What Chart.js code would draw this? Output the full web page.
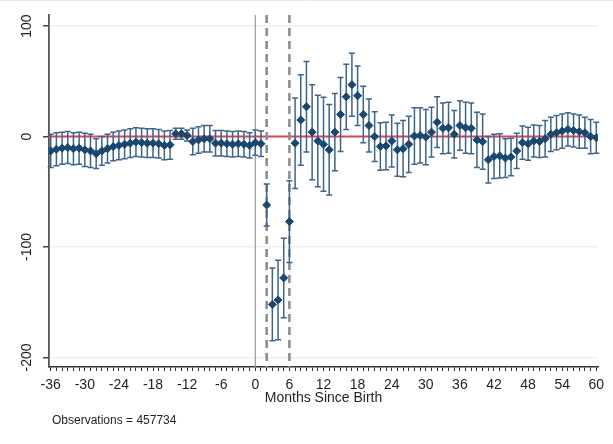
<!DOCTYPE html>
<html>
<head>
<meta charset="utf-8">
<script src="https://cdn.jsdelivr.net/npm/chart.js@4.4.1/dist/chart.umd.min.js"></script>
<style>
  html, body { margin: 0; padding: 0; background: #fff; }
  #wrap { width: 613px; height: 444px; }
</style>
</head>
<body>
<div id="wrap"><canvas id="eventChart" width="613" height="444"></canvas></div>
<script>
// Months since birth (x categories)
const months = [
  -36, -35, -34, -33, -32, -31, -30, -29, -28, -27, -26, -25, -24, -23, -22, -21, -20, -19,
  -18, -17, -16, -15, -14, -13, -12, -11, -10, -9, -8, -7, -6, -5, -4, -3, -2, -1,
  0, 1, 2, 3, 4, 5, 6, 7, 8, 9, 10, 11, 12, 13, 14, 15, 16, 17,
  18, 19, 20, 21, 22, 23, 24, 25, 26, 27, 28, 29, 30, 31, 32, 33, 34, 35,
  36, 37, 38, 39, 40, 41, 42, 43, 44, 45, 46, 47, 48, 49, 50, 51, 52, 53,
  54, 55, 56, 57, 58, 59, 60
];

// Point estimates
const estimates = [
  -13, -11.5, -10.5, -10, -11, -10.5, -12, -13, -15.5, -13, -11, -9, -8, -7, -6, -5, -5.5, -6,
  -6, -6.5, -8, -7.5, 2.5, 2.5, 1, -4.5, -3, -2, -2, -6, -6, -6.5, -7, -6.5, -7, -8,
  -5.5, -6.5, -62, -152, -148, -128, -77, -6, 15, 27, 4, -4, -7, -12, 4, 20, 36, 47,
  37, 20, 10, 0, -9, -8.5, -4, -12, -11, -7, 0.5, 1, -0.5, 4, 13, 7.5, 8, 2,
  10, 8, 7.5, -3, -4.5, -21, -18, -17.5, -19.5, -18.5, -13, -5.5, -6.5, -4, -4.5, -2, 2, 3.5,
  5, 6.5, 5.5, 4.5, 3.5, 0, -1
];

// Half width of the confidence interval
const ciHalf = [
  15, 15, 14.5, 14.5, 14.5, 14.5, 15, 15, 13.5, 13, 13, 13, 13, 13, 13, 13, 13, 13,
  13, 13, 13, 13, 5, 5, 5, 12, 12, 12, 12, 11.5, 11.5, 11.5, 11.5, 11.5, 11.5, 11.5,
  11.5, 11.5, 19, 33, 36, 36, 37, 41, 41, 41, 43, 41.5, 42.5, 41, 35, 33.5, 29.5, 28.5,
  27, 25.5, 24, 22.5, 21.5, 21.5, 23.5, 24, 25.5, 25.5, 25.5, 25, 25, 22.5, 23, 23, 23, 21.5,
  22.5, 23, 23, 25, 25, 21, 20, 20, 17.5, 17, 16, 15, 15, 14.5, 14.5, 16.5, 15.5, 15.5,
  15.5, 15, 15, 15, 14, 15.5, 14
];

const yTickValues = [-200, -100, 0, 100];
const xLabelStep = 6;
const birthLine = 0;
const dashedLines = [2, 6];
const zeroLine = 0;
const obsText = "Observations = 457734";

const FONT = "'Liberation Sans', Arial, sans-serif";
const NAVY = "#1a476f";

/**
 * Reference lines, error bars and rotated y labels
 */
const stataPlugin = {
  id: "stataPlugin",
  beforeDraw(chart) {
    const ctx = chart.ctx;
    ctx.save();
    ctx.fillStyle = "#fff";
    ctx.fillRect(0, 0, chart.width, chart.height);
    ctx.strokeStyle = "#e6ebf0";
    ctx.lineWidth = 1;
    ctx.beginPath();
    ctx.moveTo(0, 0.5);
    ctx.lineTo(chart.width, 0.5);
    ctx.stroke();
    ctx.restore();
  },
  beforeDatasetsDraw(chart) {
    const { ctx, chartArea, scales } = chart;
    const x = scales.x;
    const y = scales.y;
    ctx.save();

    // red line at zero
    const py0 = y.getPixelForValue(zeroLine);
    ctx.strokeStyle = "#d8465f";
    ctx.lineWidth = 2;
    ctx.beginPath();
    ctx.moveTo(chartArea.left, py0);
    ctx.lineTo(chartArea.right, py0);
    ctx.stroke();

    // solid line at birth
    const pxb = x.getPixelForValue(birthLine);
    ctx.strokeStyle = "#a0a0a0";
    ctx.lineWidth = 1.3;
    ctx.beginPath();
    ctx.moveTo(pxb, chartArea.top);
    ctx.lineTo(pxb, chartArea.bottom);
    ctx.stroke();

    // dashed lines
    ctx.strokeStyle = "#8a8a8a";
    ctx.lineWidth = 2.5;
    ctx.setLineDash([8, 5]);
    dashedLines.forEach((m) => {
      const px = x.getPixelForValue(m);
      ctx.beginPath();
      ctx.moveTo(px, chartArea.top);
      ctx.lineTo(px, chartArea.bottom);
      ctx.stroke();
    });
    ctx.setLineDash([]);

    // error bars
    ctx.strokeStyle = "#3d6489";
    ctx.lineWidth = 1.5;
    months.forEach((m, i) => {
      const px = x.getPixelForValue(m);
      const top = y.getPixelForValue(estimates[i] + ciHalf[i]);
      const bot = y.getPixelForValue(estimates[i] - ciHalf[i]);
      ctx.beginPath();
      ctx.moveTo(px, top);
      ctx.lineTo(px, bot);
      ctx.moveTo(px - 3, top);
      ctx.lineTo(px + 3, top);
      ctx.moveTo(px - 3, bot);
      ctx.lineTo(px + 3, bot);
      ctx.stroke();
    });
    ctx.restore();
  },
  afterDraw(chart) {
    const { ctx, scales } = chart;
    ctx.save();
    ctx.fillStyle = "#1f1f1f";
    ctx.font = "14px " + FONT;
    ctx.textAlign = "center";
    ctx.textBaseline = "middle";
    yTickValues.forEach((v) => {
      const py = scales.y.getPixelForValue(v);
      ctx.save();
      ctx.translate(27.5, py);
      ctx.rotate(-Math.PI / 2);
      ctx.fillText(String(v), 0, 0);
      ctx.restore();
    });

    ctx.font = "12px " + FONT;
    ctx.textAlign = "left";
    ctx.textBaseline = "alphabetic";
    ctx.fillText(obsText, 52, 424);
    ctx.restore();
  },
};

function drawChart() {
  const ctx = document.getElementById("eventChart").getContext("2d");
  const points = months.map((m, i) => ({ x: m, y: estimates[i] }));

  new Chart(ctx, {
    type: "scatter",
    data: {
      datasets: [
        {
          data: points,
          pointStyle: "rectRot",
          pointRadius: 4,
          pointBackgroundColor: NAVY,
          pointBorderColor: NAVY,
          pointBorderWidth: 1,
          showLine: false,
        },
      ],
    },
    options: {
      responsive: false,
      animation: false,
      devicePixelRatio: 1,
      layout: { padding: { top: 15, right: 15, left: 0, bottom: 0 } },
      plugins: {
        legend: { display: false },
        tooltip: { enabled: false },
      },
      scales: {
        x: {
          type: "linear",
          min: -36.3,
          max: 60.3,
          afterBuildTicks: (s) => {
            s.ticks = months.map((m) => ({ value: m }));
          },
          afterFit: (s) => {
            s.height = 77;
          },
          ticks: {
            autoSkip: false,
            maxRotation: 0,
            minRotation: 0,
            padding: 6,
            color: "#1f1f1f",
            font: { family: FONT, size: 14 },
            callback: (v) => (v % xLabelStep === 0 ? String(v) : ""),
          },
          grid: {
            drawOnChartArea: false,
            drawTicks: true,
            tickLength: 4,
            tickColor: "#333",
            lineWidth: 1,
          },
          border: { display: true, color: "#333", width: 1.5 },
          title: {
            display: true,
            text: "Months Since Birth",
            color: "#1f1f1f",
            font: { family: FONT, size: 14 },
            padding: { top: 0, bottom: 37 },
          },
        },
        y: {
          type: "linear",
          min: -208.7,
          max: 110.1,
          afterBuildTicks: (s) => {
            s.ticks = yTickValues.map((v) => ({ value: v }));
          },
          afterFit: (s) => {
            s.width = 49;
          },
          ticks: { display: false },
          grid: {
            color: "#edf0f3",
            lineWidth: 1.5,
            drawTicks: true,
            tickLength: 6,
            tickColor: "#444",
          },
          border: { display: true, color: "#555", width: 1.8 },
        },
      },
    },
    plugins: [stataPlugin],
  });
}

drawChart();
</script>
</body>
</html>
